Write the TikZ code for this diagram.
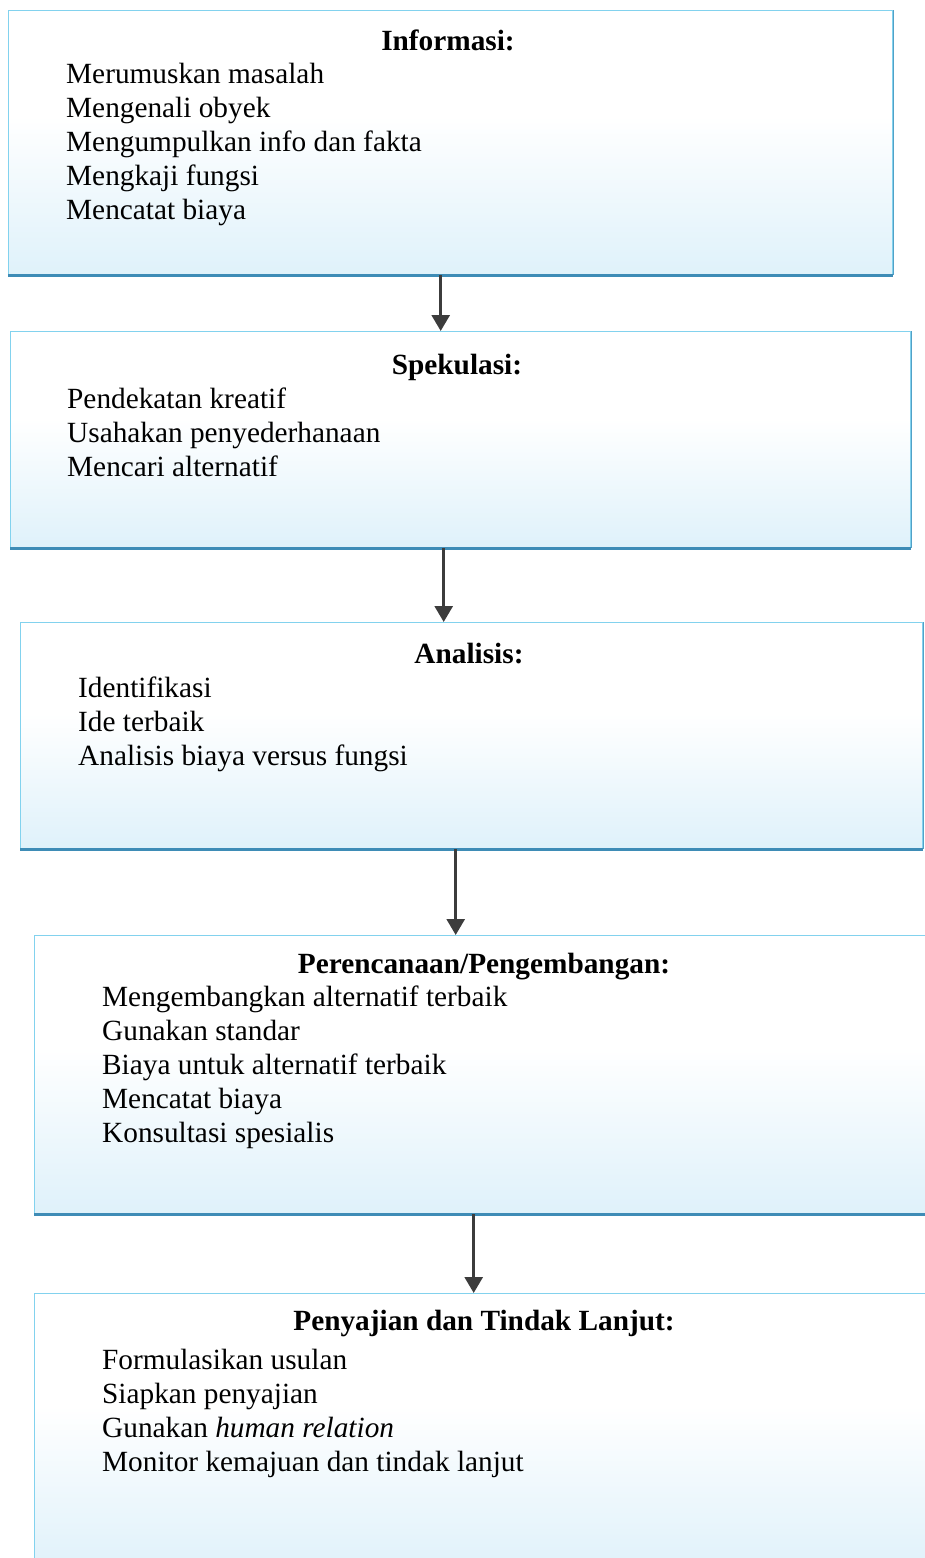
\documentclass[tikz,border=0pt]{standalone}
\usepackage{fontspec}
\setmainfont{Liberation Serif}
\usetikzlibrary{arrows.meta}
\definecolor{boxfill}{RGB}{208,235,248}
\definecolor{boxline}{RGB}{130,210,238}
\definecolor{boxedge}{RGB}{62,140,182}
\definecolor{arrowgray}{RGB}{60,60,60}
\pgfdeclareverticalshading{boxshade}{100bp}{color(0bp)=(boxfill); color(20bp)=(boxfill!80!white); color(55bp)=(white); color(100bp)=(white)}
\tikzset{
  stagebox/.style={draw=boxline, line width=1.4pt, shading=boxshade, anchor=north west, inner sep=0pt},
  boxedge/.style={draw=boxedge, line width=2.6pt},
  sideedge/.style={draw=boxedge!70!boxline, line width=1.4pt},
  flowarrow/.style={draw=arrowgray, line width=2.8pt, -{Triangle[length=16pt,width=18pt]}},
  title/.style={anchor=base, font=\fontsize{29.3}{34}\selectfont\bfseries, inner sep=0pt},
  item/.style={anchor=base west, font=\fontsize{29.3}{34}\selectfont, inner sep=0pt},
}
\begin{document}
\begin{tikzpicture}[x=1pt,y=-1pt]
\path[use as bounding box, clip] (0,0) rectangle (925,1558);

% stage boxes
\node[stagebox, minimum width=884pt, minimum height=264pt] (b1) at (8,10) {};
\node[stagebox, minimum width=900pt, minimum height=216pt] (b2) at (10,331) {};
\node[stagebox, minimum width=902pt, minimum height=226pt] (b3) at (20,622) {};
\node[stagebox, minimum width=901pt, minimum height=278pt] (b4) at (34,935) {};
\node[stagebox, minimum width=901pt, minimum height=280pt] (b5) at (34,1293) {};

% darker right and bottom edges
\foreach \b in {b1,b2,b3,b4}{
  \draw[sideedge] (\b.north east) -- (\b.south east);
  \draw[boxedge] (\b.south west) -- (\b.south east);
}

% connectors
\draw[flowarrow] ([xshift=-10pt]b1.south) -- ([xshift=-10pt]b1.south |- b2.north);
\draw[flowarrow] ([xshift=-17pt]b2.south) -- ([xshift=-17pt]b2.south |- b3.north);
\draw[flowarrow] ([xshift=-16pt]b3.south) -- ([xshift=-16pt]b3.south |- b4.north);
\draw[flowarrow] ([xshift=-11.5pt]b4.south) -- ([xshift=-11.5pt]b4.south |- b5.north);

% Informasi
\node[title] (t1) at (448,50) {Informasi:};
\foreach \t [count=\i] in {Merumuskan masalah, Mengenali obyek, Mengumpulkan info dan fakta, Mengkaji fungsi, Mencatat biaya}
  \node[item] (i1-\i) at (66,{83+34*(\i-1)}) {\t};

% Spekulasi
\node[title] (t2) at (457,374) {Spekulasi:};
\foreach \t [count=\i] in {Pendekatan kreatif, Usahakan penyederhanaan, Mencari alternatif}
  \node[item] (i2-\i) at (67,{408+34*(\i-1)}) {\t};

% Analisis
\node[title] (t3) at (469,663) {Analisis:};
\foreach \t [count=\i] in {Identifikasi, Ide terbaik, Analisis biaya versus fungsi}
  \node[item] (i3-\i) at (78,{697+34*(\i-1)}) {\t};

% Perencanaan/Pengembangan
\node[title] (t4) at (484,973) {Perencanaan/Pengembangan:};
\foreach \t [count=\i] in {Mengembangkan alternatif terbaik, Gunakan standar, Biaya untuk alternatif terbaik, Mencatat biaya, Konsultasi spesialis}
  \node[item] (i4-\i) at (102,{1006+34*(\i-1)}) {\t};

% Penyajian dan Tindak Lanjut
\node[title] (t5) at (484,1330) {Penyajian dan Tindak Lanjut:};
\foreach \t [count=\i] in {Formulasikan usulan, Siapkan penyajian, Gunakan \textit{human relation}, Monitor kemajuan dan tindak lanjut}
  \node[item] (i5-\i) at (102,{1369+34*(\i-1)}) {\t};
\end{tikzpicture}
\end{document}
